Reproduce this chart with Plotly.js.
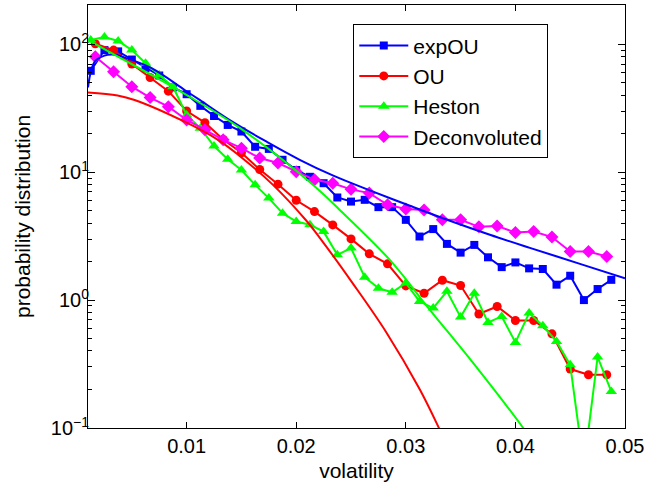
<!DOCTYPE html>
<html>
<head>
<meta charset="utf-8">
<script src="https://cdn.plot.ly/plotly-3.0.1.min.js"></script>
<style>
  html, body { margin: 0; padding: 0; background: #fff; }
  #chart { width: 649px; height: 482px; }
</style>
</head>
<body>
<div id="chart"></div>
<script>
// ---- data ----
const xFine = [0.00125, 0.0025, 0.00375, 0.005, 0.00625, 0.0075, 0.00875, 0.01, 0.01125, 0.0125,
  0.01375, 0.015, 0.01625, 0.0175, 0.01875, 0.02, 0.02125, 0.0225, 0.02375, 0.025,
  0.02625, 0.0275, 0.02875, 0.03, 0.03125, 0.0325, 0.03375, 0.035, 0.03625, 0.0375,
  0.03875, 0.04, 0.04125, 0.0425, 0.04375, 0.045, 0.04625, 0.0475, 0.04875];
const xCoarse = [0.001667, 0.003333, 0.005, 0.006667, 0.008333, 0.01, 0.011667, 0.013333, 0.015, 0.016667,
  0.018333, 0.02, 0.021667, 0.023333, 0.025, 0.026667, 0.028333, 0.03, 0.031667, 0.033333,
  0.035, 0.036667, 0.038333, 0.04, 0.041667, 0.043333, 0.045, 0.046667, 0.048333];

const expOU = [62, 90, 88, 76, 65, 57, 46, 40.7, 33, 27.5,
  23.4, 20.8, 15.8, 15.2, 12.5, 10.4, 9.2, 8.2, 6.34, 5.89,
  6.08, 5.33, 5.33, 4.24, 3.14, 3.59, 2.75, 2.35, 2.70, 2.16,
  1.81, 1.97, 1.77, 1.75, 1.32, 1.55, 1.00, 1.22, 1.44];
const heston = [108, 114, 106, 90, 71, 57.6, 46.6, 28, 22.1, 16.0,
  12.6, 10.4, 7.96, 6.27, 4.78, 4.11, 3.88, 3.43, 2.26, 2.55,
  1.51, 1.24, 1.15, 1.36, 0.976, 0.866, 1.17, 0.736, 1.13, 0.668,
  0.745, 0.467, 0.791, 0.630, 0.475, 0.312, 0.05, 0.359, 0.193];
const ou = [101, 90, 70, 55, 43, 30.1, 24.4, 18.0, 14.2, 10.5,
  8.06, 6.03, 4.92, 3.87, 3.01, 2.30, 1.92, 1.29, 1.13, 1.43,
  1.30, 0.778, 0.891, 0.693, 0.693, 0.545, 0.289, 0.261, 0.261];
const deconv = [80, 61, 46.6, 38.3, 32.5, 25.6, 21.5, 17.9, 15.4, 12.9,
  11.8, 10.1, 8.71, 8.20, 7.34, 6.86, 5.56, 5.16, 5.07, 4.24,
  4.24, 3.74, 3.80, 3.37, 3.43, 3.11, 2.40, 2.40, 2.19];

// fitted curves
const fitExpOUx = [0.001, 0.0016, 0.0025, 0.0033, 0.0043, 0.0068, 0.00982, 0.01119, 0.0142, 0.0173,
  0.02032, 0.02333, 0.02671, 0.03037, 0.03402, 0.03767, 0.04132, 0.04589, 0.05];
const fitExpOUy = [46, 73, 81.5, 83, 79, 65, 43.9, 36.7, 24.7, 17.3,
  12.5, 9.44, 7.21, 5.46, 4.17, 3.24, 2.56, 1.92, 1.48];
const fitOUx = [0.001, 0.0037, 0.00525, 0.00982, 0.01286, 0.01484, 0.01788, 0.02093, 0.02215, 0.02519,
  0.02824, 0.03128, 0.03295, 0.03402];
const fitOUy = [42, 39.8, 36.7, 24.8, 17.9, 13.4, 7.96, 4.17, 3.07, 1.34,
  0.556, 0.2, 0.103, 0.065];
const fitHestonx = [0.001, 0.00373, 0.00678, 0.00982, 0.01484, 0.02123, 0.02397, 0.02854, 0.03219, 0.0363,
  0.04071, 0.0427];
const fitHestony = [108, 80, 57.6, 40.9, 22.2, 8.38, 5.07, 2.06, 0.84, 0.31,
  0.1, 0.056];

const xTickVals = [0.01, 0.02, 0.03, 0.04, 0.05];
const xTickText = ['0.01', '0.02', '0.03', '0.04', '0.05'];
const yTickVals = [0.1, 1, 10, 100];
const yTickText = ['10<sup>\u22121</sup>', '10<sup>0</sup>', '10<sup>1</sup>', '10<sup>2</sup>'];

// ---- styling ----
const BLUE = '#0000ff', RED = '#ff0000', GREEN = '#00ff00', MAG = '#ff00ff';
const FONT = 'Liberation Sans, Arial, Helvetica, sans-serif';

const minorVals = [];
for (let e = -1; e <= 2; e++) {
  for (let m = 2; m <= 9; m++) minorVals.push(m * Math.pow(10, e));
}

const traces = [
  { x: xFine, y: expOU, name: 'expOU', mode: 'lines+markers',
    line: { color: BLUE, width: 2 }, marker: { symbol: 'square', size: 8, color: BLUE } },
  { x: xCoarse, y: ou, name: 'OU', mode: 'lines+markers',
    line: { color: RED, width: 2 }, marker: { symbol: 'circle', size: 9, color: RED } },
  { x: xFine, y: heston, name: 'Heston', mode: 'lines+markers',
    line: { color: GREEN, width: 2 }, marker: { symbol: 'triangle-up', size: 10, color: GREEN } },
  { x: xCoarse, y: deconv, name: 'Deconvoluted', mode: 'lines+markers',
    line: { color: MAG, width: 2 }, marker: { symbol: 'diamond', size: 10, color: MAG } },
  { x: fitExpOUx, y: fitExpOUy, mode: 'lines', showlegend: false,
    line: { color: BLUE, width: 2, shape: 'spline', smoothing: 1 } },
  { x: fitOUx, y: fitOUy, mode: 'lines', showlegend: false,
    line: { color: RED, width: 2, shape: 'spline', smoothing: 1 } },
  { x: fitHestonx, y: fitHestony, mode: 'lines', showlegend: false,
    line: { color: GREEN, width: 2, shape: 'spline', smoothing: 1 } }
];

const axisCommon = {
  showline: true, linecolor: '#000', linewidth: 1, mirror: 'ticks',
  ticks: 'inside', tickcolor: '#000', tickwidth: 1,
  showgrid: false, zeroline: false,
  tickfont: { family: FONT, size: 20, color: '#000' }
};

const layout = {
  width: 649, height: 482,
  margin: { l: 88, r: 24, t: 5, b: 54 },
  paper_bgcolor: '#fff', plot_bgcolor: '#fff',
  font: { family: FONT, size: 20, color: '#000' },
  xaxis: Object.assign({}, axisCommon, {
    range: [0.001, 0.05], tickmode: 'array', tickvals: xTickVals, ticktext: xTickText,
    ticklen: 6,
    title: { text: 'volatility', font: { family: FONT, size: 21, color: '#000' }, standoff: 13 }
  }),
  yaxis: Object.assign({}, axisCommon, {
    type: 'log', range: [-1, 2.307], tickmode: 'array', tickvals: yTickVals, ticktext: yTickText,
    ticklen: 7, ticklabelstandoff: -6,
    minor: { tickmode: 'array', tickvals: minorVals, ticks: 'inside', ticklen: 4, tickcolor: '#000', showgrid: false },
    title: { text: 'probability distribution', font: { family: FONT, size: 21, color: '#000' }, standoff: 14 }
  }),
  legend: {
    x: 0.494, y: 0.954, xanchor: 'left', yanchor: 'top',
    bgcolor: '#fff', bordercolor: '#000', borderwidth: 1,
    font: { family: FONT, size: 21, color: '#000' },
    itemwidth: 49, tracegroupgap: 0
  },
  showlegend: true
};

Plotly.newPlot('chart', traces, layout, { staticPlot: true, displayModeBar: false });
</script>
</body>
</html>
